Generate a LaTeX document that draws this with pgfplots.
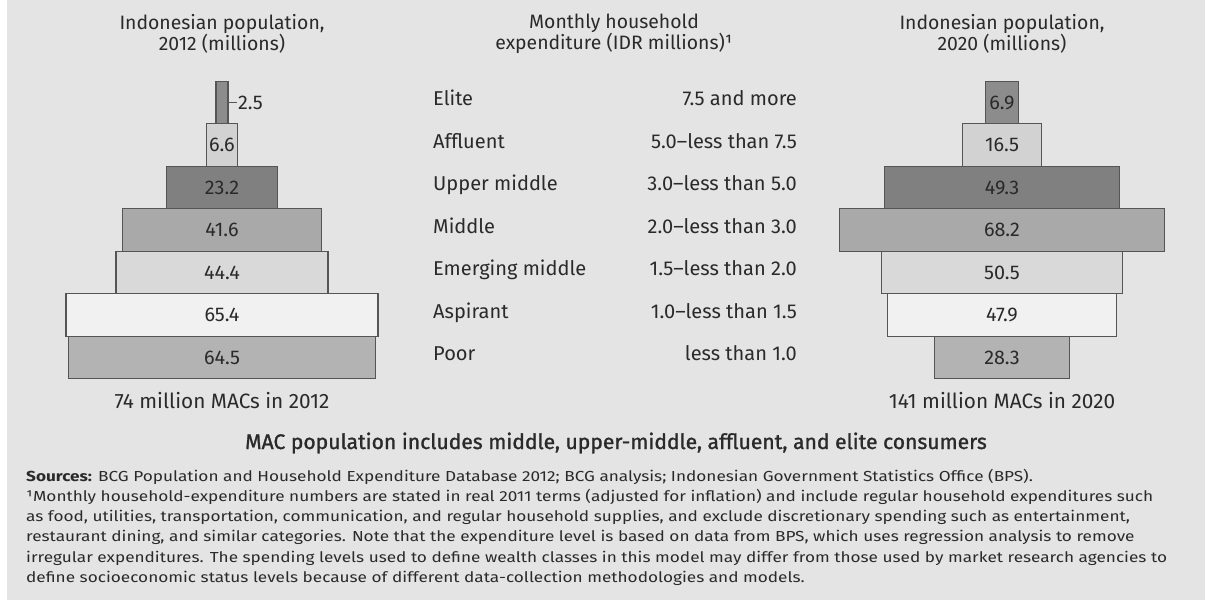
\documentclass[border=0pt]{standalone}
\usepackage{pgfplots}
\pgfplotsset{compat=1.18}
\usepackage{pgfplotstable}
\usepackage{fontspec}
\setmainfont{Fira Sans}
\newfontfamily\titlefont[FakeBold=1.2]{Fira Sans}

\definecolor{bg}{HTML}{E4E4E4}
\definecolor{ink}{HTML}{2A2A2A}
\definecolor{edge}{HTML}{555555}
\definecolor{cElite}{HTML}{8C8C8C}
\definecolor{cAffl}{HTML}{D2D2D2}
\definecolor{cUpper}{HTML}{808080}
\definecolor{cMid}{HTML}{A9A9A9}
\definecolor{cEmerg}{HTML}{D9D9D9}
\definecolor{cAsp}{HTML}{F1F1F1}
\definecolor{cPoor}{HTML}{B3B3B3}

\newcommand\fs[2]{\fontsize{#1bp}{#2bp}\selectfont}
% font size (bp) that makes #3 exactly #2 bp wide (measure outside the picture)
\newlength\tw
\newcommand\fitsize[3]{\settowidth\tw{\fontsize{10bp}{12bp}\selectfont #3}%
  \pgfmathsetmacro#1{10*#2*1.00375/\tw}}

% y: 1 = Poor ... 7 = Elite; c = class index
\pgfplotstableread{
y v c
1 64.5 6
2 65.4 5
3 44.4 4
4 41.6 3
5 23.2 2
6 6.6 1
7 2.5 0
}\popA

\pgfplotstableread{
y v c
1 28.3 6
2 47.9 5
3 50.5 4
4 68.2 3
5 49.3 2
6 16.5 1
7 6.9 0
}\popB

% 80 millions across 381.6bp, one row = 42.5bp
\pgfplotsset{
  pyr/.style={scale only axis, width=381.6bp, height=297.5bp,
    xmin=-40, xmax=40, ymin=0.5, ymax=7.5, hide axis, clip=false, anchor=center},
  bars/.style={scatter, only marks, mark=square*, mark size=21.25bp,
    point meta=explicit symbolic,
    scatter/classes={
      0={draw=edge, line width=1.3bp, fill=cElite},
      1={draw=edge, line width=1.3bp, fill=cAffl},
      2={draw=edge, line width=1.3bp, fill=cUpper},
      3={draw=edge, line width=1.3bp, fill=cMid},
      4={draw=edge, line width=1.3bp, fill=cEmerg},
      5={draw=edge, line width=1.3bp, fill=cAsp},
      6={draw=edge, line width=1.3bp, fill=cPoor}},
    visualization depends on={\thisrow{v}*381.6/80/42.5 \as \sx},
    scatter/@pre marker code/.append style={/tikz/xscale=\sx}},
  vals/.style={only marks, mark=none, nodes near coords, point meta=explicit symbolic,
    nodes near coords align=center,
    every node near coord/.append style={font=\fs{\valsize}{20}, text=ink, anchor=center}},
}

\begin{document}%
\fitsize\labsize{153}{Emerging middle}%
\fitsize\headsize{205}{Indonesian population,}%
\fitsize\footsize{215}{74 million MACs in 2012}%
\fitsize\valsize{35}{65.4}%
\fitsize\titlesize{415}{\titlefont includes middle, upper-middle, affluent, an}%
\settowidth\tw{\fs{14.5}{20}¹Monthly household-expenditure numbers are stated in real 2011 terms (adjusted for inflation) and include regular household expenditures such}%
\pgfmathsetmacro\nstretch{1127*1.00375/\tw}%
\newfontfamily\notefont[FakeStretch=\nstretch]{Fira Sans}%
\begin{tikzpicture}
\fill[bg] (0,0) rectangle (1205bp,-600bp);
\fill[white] (0,0) rectangle (7bp,-600bp);
\useasboundingbox (0,0) rectangle (1205bp,-600bp);

% 2012 pyramid
\begin{axis}[pyr, at={(222bp,-230bp)}]
\addplot[bars] table[x expr=0, y=y, meta=c]{\popA};
\addplot[vals, skip coords between index={6}{7}] table[x expr=0, y=y, meta=v]{\popA};
\draw[edge, line width=0.8bp] (axis cs:0,7) -- (axis cs:3.1,7)
  node[right, inner sep=1bp, font=\fs{\valsize}{20}, text=ink]{2.5};
\end{axis}

% 2020 pyramid
\begin{axis}[pyr, at={(1002bp,-230bp)}]
\addplot[bars] table[x expr=0, y=y, meta=c]{\popB};
\addplot[vals] table[x expr=0, y=y, meta=v]{\popB};
\end{axis}

% headers
\begin{scope}[every node/.style={text=ink, align=center, font=\fs{\headsize}{19}}]
\node at (222bp,-34bp) {Indonesian population,\\2012 (millions)};
\node at (614bp,-34bp) {Monthly household\\expenditure (IDR millions)¹};
\node at (1002bp,-34bp) {Indonesian population,\\2020 (millions)};
\end{scope}
\node[text=ink, font=\fs{\footsize}{20}] at (222bp,-401bp) {74 million MACs in 2012};
\node[text=ink, font=\fs{\footsize}{20}] at (1002bp,-401bp) {141 million MACs in 2020};

% class names and expenditure bands
\begin{scope}[every node/.style={text=ink, font=\fs{\labsize}{20}, inner sep=0pt}]
\foreach \n/\r [count=\i from 0] in {Elite/7.5 and more, Affluent/5.0--less than 7.5,
    Upper middle/3.0--less than 5.0, Middle/2.0--less than 3.0,
    Emerging middle/1.5--less than 2.0, Aspirant/1.0--less than 1.5, Poor/less than 1.0} {
  \node[anchor=mid west] at (433bp,{-103bp-42.5bp*\i}) {\n};
  \node[anchor=mid east] at (797bp,{-103bp-42.5bp*\i}) {\r};
}
\end{scope}

\node[text=ink, anchor=base west, inner sep=0pt, font=\titlefont\fs{\titlesize}{22}] at (245bp,-449bp)
  {MAC population includes middle, upper-middle, affluent, and elite consumers};

\begin{scope}[every node/.style={anchor=base west, text=ink, inner sep=0pt, font=\notefont\fs{14.5}{20}}]
\node at (26bp,-481bp) {\textbf{Sources:} BCG Population and Household Expenditure Database 2012; BCG analysis; Indonesian Government Statistics Office (BPS).};
\node at (26bp,-501.3bp) {¹Monthly household-expenditure numbers are stated in real 2011 terms (adjusted for inflation) and include regular household expenditures such};
\node at (26bp,-521.6bp) {as food, utilities, transportation, communication, and regular household supplies, and exclude discretionary spending such as entertainment,};
\node at (26bp,-541.9bp) {restaurant dining, and similar categories. Note that the expenditure level is based on data from BPS, which uses regression analysis to remove};
\node at (26bp,-562.2bp) {irregular expenditures. The spending levels used to define wealth classes in this model may differ from those used by market research agencies to};
\node at (26bp,-582.5bp) {define socioeconomic status levels because of different data-collection methodologies and models.};
\end{scope}
\end{tikzpicture}
\end{document}
